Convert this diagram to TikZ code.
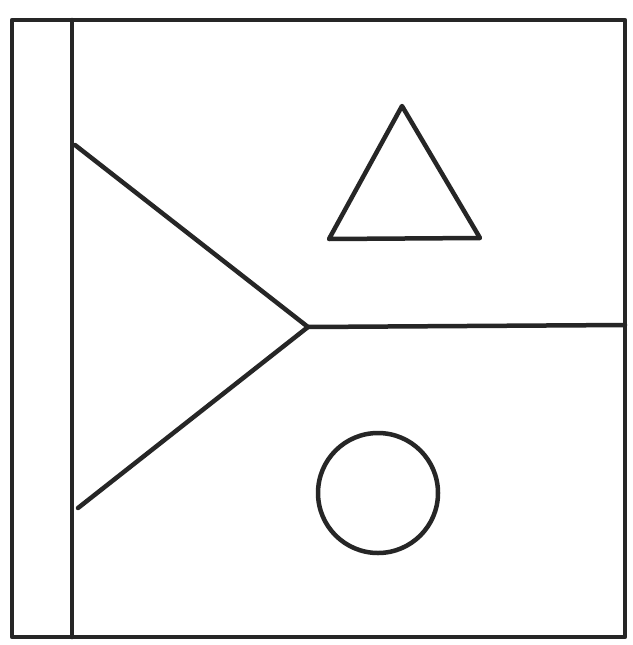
\documentclass[tikz,border=0pt]{standalone}
\begin{document}
\begin{tikzpicture}[x=1pt,y=-1pt,
  ln/.style={draw=black!85,line width=4.5pt,line cap=round,line join=round}]
\useasboundingbox (0,0) rectangle (632,645);
\fill[white] (0,0) rectangle (632,645);
\coordinate (tl) at (12,20);
\coordinate (tr) at (625,20);
\coordinate (br) at (625,637);
\coordinate (bl) at (12,637);
\coordinate (st) at (72,20);
\coordinate (sb) at (72,637);
\coordinate (va) at (75,145);
\coordinate (vm) at (308,327);
\coordinate (vb) at (78,508);
\coordinate (hr) at (625,325);
\coordinate (ta) at (402,106);
\coordinate (tb) at (480,238);
\coordinate (tc) at (329,239);
\draw[ln] (tl) -- (tr) -- (br) -- (bl) -- cycle;
\draw[ln] (st) -- (sb);
\draw[ln] (va) -- (vm) -- (vb);
\draw[ln] (vm) -- (hr);
\draw[ln] (ta) -- (tb) -- (tc) -- cycle;
\node[ln,circle,minimum size=120pt,inner sep=0pt] (circ) at (378,493) {};
\end{tikzpicture}
\end{document}
